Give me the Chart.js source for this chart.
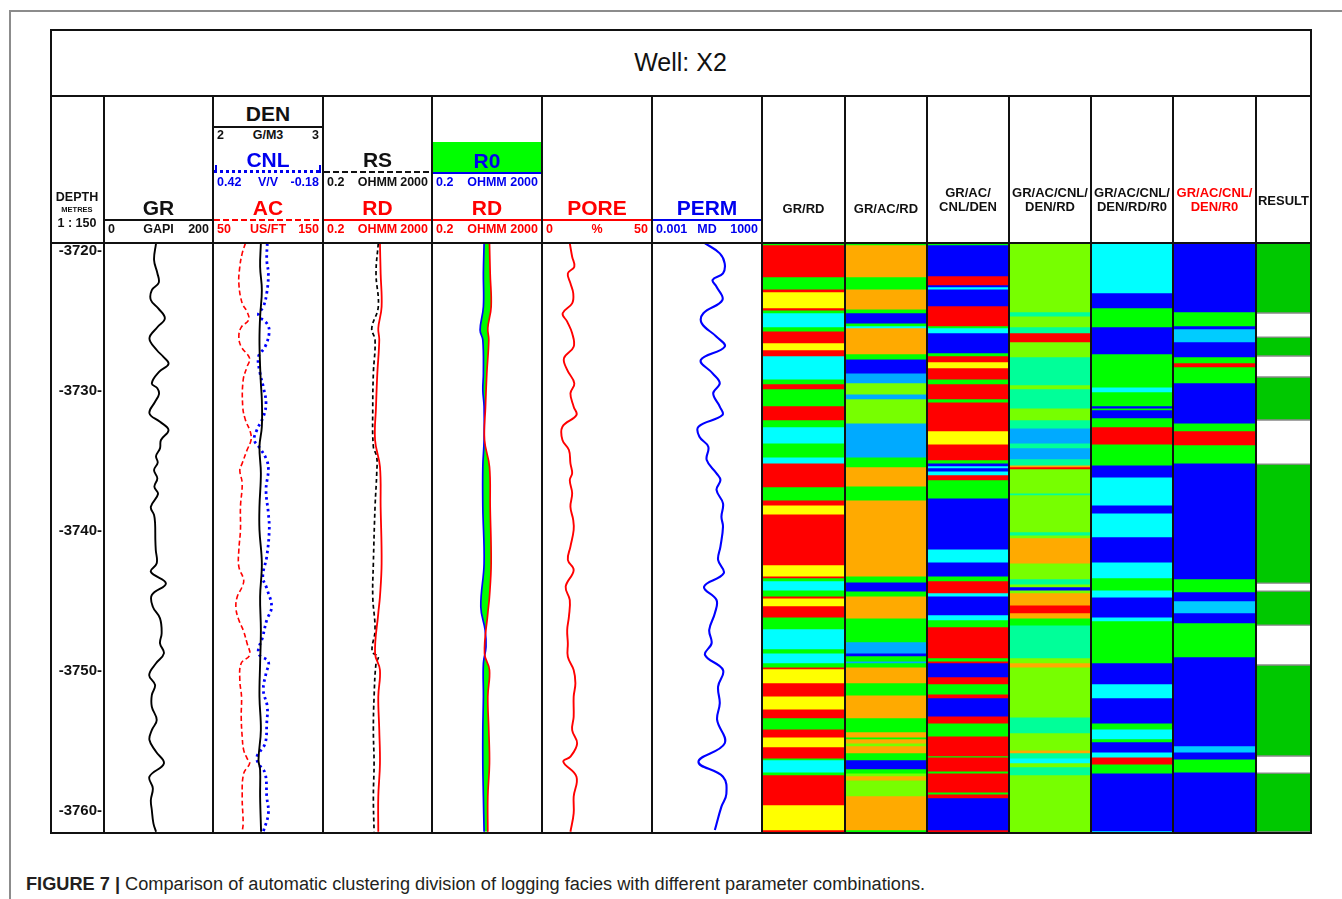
<!DOCTYPE html>
<html>
<head>
<meta charset="utf-8">
<title>Well X2 - logging facies</title>
<script src="https://cdn.jsdelivr.net/npm/chart.js@4.4.1/dist/chart.umd.min.js"></script>
<style>
  body { margin: 0; background: #fff; }
  #sheet { position: relative; width: 1342px; height: 899px; overflow: hidden; background: #fff;
           font-family: Arial, "Liberation Sans", Helvetica, sans-serif; }
  #sheet canvas { position: absolute; z-index: 1; }
  .ln { position: absolute; z-index: 3; }
  .tx { position: absolute; z-index: 4; white-space: nowrap; font-weight: bold; line-height: 1; }
  #caption { position: absolute; left: 26px; top: 884px; transform-origin: left center; white-space: nowrap;
             font-size: 18px; color: #231f20; line-height: 1; }
</style>
</head>
<body>
<div id="sheet"></div>
<script>
// depth window shown in the tracks (m)
const DEPTH_TOP = 3719.47;
const DEPTH_BASE = 3761.54;
const DEPTH_TICKS = [3720, 3730, 3740, 3750, 3760];

// ---- log curves (depth m / value) ----
const GR_DEPTH = [3719.49, 3720.69, 3721.61, 3722.31, 3722.83, 3723.54, 3724.14, 3724.85, 3725.49, 3726.28,
  3727.11, 3727.59, 3728.11, 3728.66, 3729.49, 3729.85, 3730.26, 3730.81, 3731.64, 3732.24, 3732.83, 3733.54,
  3734.14, 3734.69, 3735.16, 3735.69, 3736.28, 3736.88, 3737.40, 3738.31, 3738.90, 3739.49, 3740.69, 3741.40,
  3742.35, 3742.95, 3743.78, 3744.61, 3745.45, 3746.28, 3747.35, 3748.06, 3748.78, 3749.49, 3750.33, 3751.04,
  3751.76, 3752.59, 3753.54, 3754.26, 3754.97, 3755.81, 3756.64, 3757.59, 3758.42, 3759.26, 3759.97, 3760.92, 3761.52];
const GR = [95.4, 91.7, 97.8, 100.4, 87.5, 85.7, 99.6, 111.9, 97.8, 83.1,
  96.7, 108.8, 118.7, 101.5, 87.5, 97.8, 100.9, 93.6, 83.1, 102.8, 118.7, 104.6,
  102.8, 95.4, 98.5, 91.7, 97.8, 92.3, 99.1, 85.7, 91.7, 93.6, 94.1, 94.9,
  96.7, 85.7, 113.8, 87.5, 89.4, 102.8, 105.9, 102.8, 110.1, 95.4, 82.6, 93.6,
  87.5, 87.5, 96.7, 87.5, 83.1, 95.4, 110.1, 83.1, 89.4, 85.7, 87.5, 90.5, 95.4];

const AC_DEPTH = [3719.49, 3720.21, 3721.16, 3722.35, 3723.78, 3724.38, 3724.97, 3725.49, 3726.16, 3726.88,
  3727.71, 3728.31, 3729.26, 3731.16, 3732.11, 3732.95, 3733.54, 3734.26, 3735.21, 3735.69, 3736.64, 3738.31,
  3739.97, 3741.40, 3742.59, 3743.54, 3744.02, 3744.74, 3745.56, 3746.40, 3747.11, 3748.06, 3748.90, 3749.49,
  3750.69, 3751.88, 3753.31, 3754.74, 3755.69, 3756.28, 3756.64, 3757.35, 3759.02, 3760.92, 3761.52];
const AC = [79.1, 76.1, 73.9, 73.0, 76.1, 80.6, 82.1, 75.2, 73.0, 75.2,
  83.0, 80.6, 77.0, 76.6, 79.1, 83.6, 84.3, 80.6, 76.1, 73.9, 76.1, 74.5,
  74.5, 73.0, 73.0, 77.5, 76.1, 71.5, 70.3, 73.0, 77.0, 80.6, 83.0, 75.2,
  73.9, 75.5, 75.2, 76.1, 77.5, 80.6, 83.0, 77.5, 76.1, 77.0, 76.1];

const DEN_DEPTH = [3719.49, 3721.16, 3722.83, 3724.74, 3726.40, 3728.31, 3729.49, 3730.69, 3732.59, 3734.02,
  3735.92, 3738.31, 3739.97, 3742.35, 3744.74, 3747.11, 3749.49, 3751.88, 3754.26, 3756.40, 3757.11, 3759.02, 3761.52];
const DEN = [2.434, 2.427, 2.443, 2.427, 2.421, 2.427, 2.434, 2.443, 2.443, 2.421,
  2.434, 2.421, 2.421, 2.443, 2.427, 2.434, 2.427, 2.421, 2.434, 2.412, 2.427, 2.427, 2.436];

const CNL_DEPTH = [3719.49, 3720.69, 3721.64, 3723.06, 3724.02, 3724.61, 3725.21, 3725.81, 3726.88, 3727.59,
  3728.78, 3729.74, 3730.92, 3731.88, 3732.83, 3733.54, 3734.14, 3734.97, 3735.69, 3737.11, 3738.78, 3739.97,
  3741.88, 3743.31, 3744.14, 3745.45, 3746.40, 3747.59, 3748.78, 3749.38, 3750.21, 3751.40, 3752.59, 3753.78,
  3755.21, 3756.16, 3756.64, 3757.35, 3759.02, 3760.21, 3761.52];
const CNL = [0.124, 0.127, 0.118, 0.127, 0.146, 0.173, 0.127, 0.113, 0.136, 0.173,
  0.164, 0.146, 0.131, 0.146, 0.182, 0.196, 0.164, 0.127, 0.118, 0.131, 0.118, 0.113,
  0.127, 0.149, 0.127, 0.100, 0.127, 0.149, 0.173, 0.118, 0.131, 0.146, 0.124, 0.127,
  0.136, 0.182, 0.173, 0.136, 0.127, 0.118, 0.146];

const RS_DEPTH = [3719.49, 3721.64, 3724.02, 3725.56, 3726.40, 3728.78, 3731.16, 3734.02, 3734.74, 3735.92,
  3738.31, 3742.35, 3744.74, 3747.11, 3748.66, 3749.02, 3749.49, 3751.88, 3754.26, 3756.64, 3759.02, 3761.52];
const RS = [21.4, 17.6, 21.4, 12.2, 16.2, 14.0, 13.3, 14.0, 18.7, 18.7,
  16.2, 14.0, 13.3, 16.2, 12.6, 21.4, 17.6, 14.9, 14.0, 14.9, 14.0, 14.9];

const RD_DEPTH = [3719.49, 3721.64, 3724.02, 3725.56, 3726.40, 3728.78, 3731.16, 3733.54, 3735.45, 3738.31,
  3742.35, 3744.74, 3745.92, 3748.78, 3749.97, 3751.88, 3754.26, 3756.64, 3759.02, 3761.52];
const RD = [24.7, 26.2, 28.5, 21.4, 23.3, 19.7, 17.6, 16.2, 24.7, 26.2,
  28.5, 24.7, 21.4, 16.2, 24.7, 21.4, 23.3, 24.7, 21.4, 21.4];

const R0_DEPTH = [3719.49, 3721.64, 3724.02, 3725.69, 3726.40, 3728.78, 3729.97, 3731.16, 3733.54, 3735.45,
  3738.31, 3742.35, 3745.45, 3747.11, 3748.31, 3749.49, 3751.88, 3754.26, 3756.64, 3759.02, 3761.52];
const R0 = [15.6, 14.7, 14.7, 11.1, 14.0, 14.7, 14.0, 15.6, 15.6, 14.0,
  14.0, 15.6, 11.8, 17.0, 18.4, 14.7, 14.7, 14.0, 14.0, 14.7, 15.6];

const PORE_DEPTH = [3719.49, 3720.45, 3721.16, 3721.64, 3722.35, 3723.06, 3723.78, 3724.49, 3725.09, 3725.92,
  3726.88, 3727.71, 3728.54, 3729.49, 3730.21, 3731.16, 3731.76, 3732.59, 3733.54, 3734.26, 3735.21, 3735.92,
  3736.40, 3737.35, 3738.31, 3739.26, 3739.97, 3741.16, 3742.11, 3742.83, 3744.02, 3744.97, 3746.16, 3747.11,
  3748.06, 3749.02, 3749.97, 3750.92, 3751.88, 3753.31, 3754.26, 3755.21, 3756.16, 3756.52, 3757.59, 3759.02,
  3760.21, 3761.52];
const PORE = [12.4, 13.5, 14.5, 11.5, 12.7, 14.0, 13.5, 9.1, 11.2, 13.5,
  14.2, 9.7, 11.2, 14.5, 12.7, 14.2, 15.5, 9.0, 9.0, 12.0, 12.7, 13.5,
  12.4, 13.5, 12.7, 14.0, 14.2, 12.7, 11.5, 14.2, 10.5, 12.4, 12.0, 11.2,
  11.5, 11.5, 14.2, 15.0, 14.2, 14.2, 13.5, 15.8, 12.7, 9.4, 15.5, 14.2,
  14.2, 12.7];

const PERM_DEPTH = [3719.49, 3720.21, 3720.92, 3721.64, 3722.11, 3722.59, 3723.54, 3724.49, 3725.21, 3726.16,
  3726.88, 3727.83, 3728.78, 3729.49, 3730.21, 3731.16, 3731.76, 3732.59, 3733.31, 3734.02, 3734.97, 3735.92,
  3736.40, 3737.11, 3738.07, 3739.02, 3739.74, 3741.16, 3742.11, 3743.06, 3744.02, 3744.97, 3745.92, 3747.11,
  3748.06, 3748.90, 3749.97, 3751.16, 3752.35, 3753.54, 3755.21, 3756.52, 3757.59, 3758.83, 3759.73, 3761.40];
const PERM = [0.778, 5.12, 9.59, 7.74, 2.05, 3.38, 7.18, 0.629, 0.514, 3.38,
  9.59, 0.453, 2.05, 5.12, 2.21, 5.12, 7.18, 0.335, 0.380, 1.18, 0.964, 3.38,
  5.58, 3.38, 7.74, 6.34, 7.74, 5.58, 4.13, 8.46, 0.686, 3.38, 2.73, 1.33,
  1.80, 0.778, 7.74, 4.13, 5.12, 3.65, 9.59, 0.335, 7.74, 11.9, 6.34, 2.73];

// ---- facies columns: interval edges (m) and class of each interval ----
const GR_RD_EDGES = [3719.47, 3719.61, 3721.90, 3722.76, 3722.97, 3724.11, 3724.26, 3724.47, 3725.47, 3725.76,
  3726.61, 3727.11, 3727.54, 3729.19, 3729.54, 3729.90, 3731.11, 3732.11, 3732.61, 3733.76, 3734.76, 3735.19,
  3736.90, 3737.83, 3738.19, 3738.83, 3742.47, 3743.26, 3743.40, 3743.61, 3744.26, 3744.69, 3744.83, 3745.40,
  3746.19, 3747.04, 3748.47, 3748.76, 3749.47, 3749.76, 3749.90, 3750.90, 3751.83, 3752.76, 3753.40, 3754.19,
  3754.76, 3755.47, 3756.26, 3756.40, 3757.26, 3757.47, 3759.61, 3761.40, 3761.54];
const GR_RD_CLASS = ['G', 'R', 'G', 'R', 'Y', 'R', 'G', 'C', 'G', 'R', 'Y', 'R', 'C', 'G', 'R', 'G', 'R', 'G',
  'C', 'G', 'C', 'R', 'G', 'R', 'Y', 'R', 'Y', 'R', 'G', 'C', 'G', 'R', 'Y', 'R', 'G', 'C', 'G', 'C', 'G', 'R',
  'Y', 'R', 'Y', 'R', 'G', 'R', 'Y', 'R', 'G', 'C', 'G', 'R', 'Y', 'R'];

const GR_AC_RD_EDGES = [3719.47, 3719.61, 3721.90, 3722.76, 3724.19, 3724.47, 3725.19, 3725.40, 3725.54, 3727.40,
  3727.76, 3728.76, 3729.47, 3730.26, 3730.61, 3732.33, 3734.76, 3735.47, 3736.83, 3737.83, 3743.26, 3743.69,
  3744.33, 3744.69, 3746.26, 3747.97, 3748.76, 3748.97, 3749.33, 3749.47, 3749.76, 3750.90, 3751.76, 3753.40,
  3754.40, 3754.76, 3754.90, 3755.19, 3755.40, 3755.90, 3756.40, 3757.04, 3757.33, 3757.54, 3757.83, 3758.97,
  3761.40, 3761.54];
const GR_AC_RD_CLASS = ['G', 'O', 'G', 'O', 'G', 'B', 'G', 'C', 'O', 'G', 'B', 'K', 'L', 'K', 'L', 'K', 'G', 'O',
  'G', 'O', 'G', 'B', 'G', 'O', 'G', 'K', 'B', 'G', 'K', 'G', 'O', 'G', 'O', 'G', 'O', 'G', 'O', 'L', 'O', 'G',
  'B', 'G', 'L', 'O', 'L', 'O', 'G'];

const GR_AC_CNL_DEN_EDGES = [3719.47, 3719.61, 3721.83, 3722.47, 3722.61, 3722.76, 3723.97, 3725.40, 3725.54,
  3725.90, 3727.33, 3727.54, 3727.97, 3728.40, 3729.19, 3729.54, 3730.61, 3730.83, 3732.90, 3733.83, 3734.97,
  3735.19, 3735.40, 3735.54, 3735.76, 3736.04, 3736.40, 3737.69, 3741.33, 3742.26, 3743.26, 3743.61, 3744.47,
  3744.69, 3746.04, 3746.40, 3746.90, 3749.11, 3749.33, 3749.47, 3750.47, 3750.97, 3751.69, 3751.97, 3753.26,
  3753.76, 3754.69, 3756.11, 3756.19, 3757.19, 3757.33, 3758.69, 3758.83, 3759.11, 3761.40, 3761.54];
const GR_AC_CNL_DEN_CLASS = ['G', 'B', 'R', 'B', 'C', 'B', 'R', 'G', 'C', 'B', 'G', 'R', 'Y', 'R', 'G', 'R', 'G',
  'R', 'Y', 'R', 'G', 'B', 'C', 'B', 'C', 'R', 'G', 'B', 'C', 'B', 'G', 'R', 'C', 'B', 'C', 'G', 'R', 'G', 'R',
  'B', 'R', 'G', 'R', 'B', 'R', 'G', 'R', 'G', 'R', 'G', 'R', 'G', 'R', 'B', 'R'];

const GR_AC_CNL_DEN_RD_EDGES = [3719.47, 3724.40, 3724.69, 3725.47, 3725.90, 3726.54, 3727.61, 3729.61, 3729.90,
  3731.26, 3732.11, 3732.69, 3733.76, 3734.11, 3734.90, 3735.33, 3735.47, 3735.61, 3737.33, 3737.47, 3740.11,
  3740.33, 3740.54, 3742.33, 3743.47, 3743.83, 3744.04, 3744.26, 3744.47, 3745.33, 3745.90, 3746.26, 3746.76,
  3749.11, 3749.47, 3749.76, 3753.33, 3754.47, 3755.69, 3755.90, 3756.26, 3756.61, 3756.90, 3757.47, 3761.54];
const GR_AC_CNL_DEN_RD_CLASS = ['L', 'S', 'L', 'S', 'R', 'L', 'S', 'L', 'S', 'L', 'S', 'K', 'S', 'K', 'S', 'O',
  'R', 'L', 'S', 'L', 'S', 'L', 'O', 'L', 'S', 'L', 'B', 'L', 'O', 'R', 'O', 'G', 'S', 'L', 'O', 'L', 'S', 'L',
  'O', 'S', 'C', 'L', 'S', 'L'];

const GR_AC_CNL_DEN_RD_R0_EDGES = [3719.47, 3723.04, 3724.11, 3725.47, 3727.40, 3729.76, 3730.11, 3731.11,
  3731.26, 3731.40, 3731.97, 3732.61, 3733.83, 3735.33, 3736.19, 3738.19, 3738.76, 3740.47, 3742.26, 3743.40,
  3744.26, 3744.76, 3746.19, 3746.47, 3749.47, 3750.97, 3751.97, 3753.76, 3754.19, 3754.90, 3755.11, 3755.83,
  3756.19, 3756.69, 3757.33, 3761.47, 3761.54];
const GR_AC_CNL_DEN_RD_R0_CLASS = ['C', 'B', 'G', 'B', 'G', 'C', 'G', 'B', 'G', 'B', 'G', 'R', 'G', 'B', 'C', 'B',
  'C', 'B', 'C', 'G', 'C', 'B', 'C', 'G', 'B', 'C', 'B', 'G', 'C', 'G', 'B', 'C', 'R', 'G', 'B', 'C'];

const GR_AC_CNL_DEN_R0_EDGES = [3719.47, 3724.40, 3725.40, 3725.61, 3726.54, 3727.61, 3728.04, 3728.33, 3729.47,
  3732.33, 3732.90, 3733.90, 3735.19, 3743.47, 3744.40, 3745.04, 3745.90, 3746.61, 3749.04, 3755.40, 3755.83,
  3756.33, 3757.26, 3761.54];
const GR_AC_CNL_DEN_R0_CLASS = ['B', 'G', 'B', 'D', 'B', 'G', 'R', 'G', 'B', 'G', 'R', 'G', 'B', 'G', 'B', 'D',
  'B', 'G', 'B', 'D', 'B', 'G', 'B'];

// final interpretation: P = pay, N = non-pay
const RESULT_EDGES = [3719.47, 3724.47, 3726.19, 3727.54, 3729.04, 3732.11, 3735.26, 3743.76, 3744.33, 3746.76,
  3749.61, 3756.11, 3757.33, 3761.54];
const RESULT_CLASS = ['P', 'N', 'P', 'N', 'P', 'N', 'P', 'N', 'P', 'N', 'P', 'N', 'P'];

const FACIES_COLORS = {
  R: '#ff0000', G: '#00ff00', Y: '#ffff00', C: '#00ffff', B: '#0000ff', O: '#ffaa00',
  L: '#77ff00', S: '#00ff99', K: '#00aaff', D: '#00ccff', P: '#00c800', N: '#ffffff'
};

// ---------------------------------------------------------------
Chart.defaults.font.family = 'Arial, "Liberation Sans", sans-serif';

const sheet = document.getElementById('sheet');
// column borders of the log sheet
const X = [50, 104, 213, 323, 432, 542, 652, 762, 845, 927, 1009, 1091, 1173, 1256, 1311];
const DATA_TOP = 243;
const DATA_H = 589;
const RED = '#ff0000';
const BLUE = '#0000ee';
const INK = '#111111';

function addCanvas(i) {
  const c = document.createElement('canvas');
  c.width = X[i + 1] - X[i] - 2;
  c.height = DATA_H;
  c.style.left = (X[i] + 1) + 'px';
  c.style.top = DATA_TOP + 'px';
  sheet.appendChild(c);
  return c;
}

const common = {
  responsive: false,
  animation: false,
  events: [],
  layout: { padding: 0, autoPadding: false },
  plugins: { legend: { display: false }, tooltip: { enabled: false } }
};

function depthScale() {
  return { type: 'linear', min: DEPTH_TOP, max: DEPTH_BASE, reverse: true, display: false };
}

function valueScale(type, min, max, reverse) {
  return { axis: 'x', type, min, max, reverse: !!reverse, display: false };
}

function curve(depth, values, axis, color, width, dash) {
  return {
    data: depth.map((d, k) => ({ x: values[k], y: d })),
    xAxisID: axis,
    yAxisID: 'y',
    borderColor: color,
    borderWidth: width,
    borderDash: dash || [],
    pointRadius: 0,
    tension: 0.4,
    fill: false
  };
}

function logTrack(i, scales, datasets) {
  return new Chart(addCanvas(i), {
    type: 'line',
    data: { datasets },
    options: { ...common, indexAxis: 'y', scales: { y: depthScale(), ...scales } }
  });
}

function faciesTrack(i, edges, classes, edged) {
  const datasets = classes.map((k, n) => ({
    data: [[edges[n], edges[n + 1]]],
    backgroundColor: FACIES_COLORS[k],
    borderColor: '#8a8a8a',
    borderWidth: edged ? { top: 1, bottom: 1, left: 0, right: 0 } : 0,
    borderSkipped: false,
    grouped: false,
    barPercentage: 1,
    categoryPercentage: 1
  }));
  return new Chart(addCanvas(i), {
    type: 'bar',
    data: { labels: [''], datasets },
    options: { ...common, scales: { x: { display: false }, y: depthScale() } }
  });
}

// depth labels
new Chart(addCanvas(0), {
  type: 'line',
  data: { datasets: [] },
  options: {
    ...common,
    scales: {
      x: { display: false },
      y: {
        type: 'linear', min: DEPTH_TOP, max: DEPTH_BASE, reverse: true, position: 'left',
        grid: { display: false, drawTicks: false },
        border: { display: false },
        afterBuildTicks: s => { s.ticks = DEPTH_TICKS.map(v => ({ value: v })); },
        afterFit: s => { s.width = s.chart.width - 1; s.paddingTop = 0; s.paddingBottom = 0; },
        ticks: { callback: v => `-${v}-`, color: INK, padding: 0, crossAlign: 'near',
                 font: { size: 15, weight: 'bold' } }
      }
    }
  }
});

// GR track
logTrack(1, { xGR: valueScale('linear', 0, 200) }, [curve(GR_DEPTH, GR, 'xGR', '#000000', 1.9)]);

// DEN / CNL / AC
logTrack(2, {
  xDEN: valueScale('linear', 2, 3),
  xCNL: valueScale('linear', -0.18, 0.42, true),
  xAC: valueScale('linear', 50, 150)
}, [
  curve(DEN_DEPTH, DEN, 'xDEN', '#000000', 1.9),
  curve(CNL_DEPTH, CNL, 'xCNL', '#0000ff', 2.8, [2.5, 3.5]),
  curve(AC_DEPTH, AC, 'xAC', RED, 1.6, [5, 3])
]);

// RS / RD
logTrack(3, { xRES: valueScale('logarithmic', 0.2, 2000) }, [
  curve(RD_DEPTH, RD, 'xRES', RED, 1.8),
  curve(RS_DEPTH, RS, 'xRES', '#000000', 1.7, [4, 3])
]);

// R0 / RD with the gap between them shaded
logTrack(4, { xRES: valueScale('logarithmic', 0.2, 2000) }, [
  curve(RD_DEPTH, RD, 'xRES', RED, 1.7),
  { ...curve(R0_DEPTH, R0, 'xRES', '#0000ff', 1.7), fill: 0, backgroundColor: '#00ff00' }
]);

// porosity
logTrack(5, { xPORE: valueScale('linear', 0, 50) }, [curve(PORE_DEPTH, PORE, 'xPORE', RED, 1.9)]);

// permeability
logTrack(6, { xPERM: valueScale('logarithmic', 0.001, 1000) }, [curve(PERM_DEPTH, PERM, 'xPERM', '#0000ff', 2.1)]);

// facies from each parameter combination
faciesTrack(7, GR_RD_EDGES, GR_RD_CLASS);
faciesTrack(8, GR_AC_RD_EDGES, GR_AC_RD_CLASS);
faciesTrack(9, GR_AC_CNL_DEN_EDGES, GR_AC_CNL_DEN_CLASS);
faciesTrack(10, GR_AC_CNL_DEN_RD_EDGES, GR_AC_CNL_DEN_RD_CLASS);
faciesTrack(11, GR_AC_CNL_DEN_RD_R0_EDGES, GR_AC_CNL_DEN_RD_R0_CLASS);
faciesTrack(12, GR_AC_CNL_DEN_R0_EDGES, GR_AC_CNL_DEN_R0_CLASS);
faciesTrack(13, RESULT_EDGES, RESULT_CLASS, true);

// ---------------- sheet frame and headers ----------------
function box(x, y, w, h, bg) {
  const d = document.createElement('div');
  d.className = 'ln';
  Object.assign(d.style, { left: x + 'px', top: y + 'px', width: w + 'px', height: h + 'px', background: bg });
  sheet.appendChild(d);
  return d;
}

function text(str, x, y, size, color, align, weight) {
  const d = document.createElement('div');
  d.className = 'tx';
  d.innerHTML = str;
  d.style.fontSize = size + 'px';
  d.style.color = color || INK;
  d.style.left = x + 'px';
  d.style.top = y + 'px';
  if (weight) d.style.fontWeight = weight;
  const tx = align === 'left' ? '0' : align === 'right' ? '-100%' : '-50%';
  d.style.transform = `translate(${tx}, -50%)`;
  sheet.appendChild(d);
  return d;
}

function scaleLine(i, y, color, style) {
  const x0 = X[i] + 1, w = X[i + 1] - X[i] - 2;
  if (style === 'dash') {
    box(x0, y - 1, w, 2, `repeating-linear-gradient(90deg, ${color} 0 6px, transparent 6px 9px)`);
  } else if (style === 'dot') {
    box(x0, y - 1.5, w, 3, `repeating-linear-gradient(90deg, ${color} 0 3px, transparent 3px 6px)`);
    box(x0 + 1, y - 6, 2, 8, color);
    box(X[i + 1] - 4, y - 6, 2, 8, color);
  } else {
    box(x0, y - 1, w, 2, color);
  }
}

function scaleRow(i, y, lo, unit, hi, color) {
  text(lo, X[i] + 4, y, 12.5, color, 'left');
  text(unit, (X[i] + X[i + 1]) / 2, y, 12.5, color);
  text(hi, X[i + 1] - 4, y, 12.5, color, 'right');
}

const mid = i => (X[i] + X[i + 1]) / 2;

// outer page rule
box(9, 10, 1333, 1.5, '#8c8c8c');
box(9, 10, 1.5, 889, '#8c8c8c');

// main frame
box(49.5, 28.5, 1262.5, 2, INK);
box(49.5, 832, 1262.5, 2, INK);
box(49.5, 28.5, 2, 805.5, INK);
box(1310, 28.5, 2, 805.5, INK);
box(50, 94.5, 1261, 2, INK);
box(50, 241.5, 1261, 2, INK);
for (let i = 1; i < X.length - 1; i++) box(X[i] - 1, 95, 2, 738, INK);

text('Well: X2', 680.5, 62, 25, INK, 'center', 'normal');

// depth column
text('DEPTH', mid(0), 197, 12.5);
text('METRES', mid(0), 209.5, 7.5);
text('1 : 150', mid(0), 222.7, 12.5);

// GR
text('GR', mid(1), 206.5, 21);
scaleLine(1, 220, INK, 'solid');
scaleRow(1, 228.5, '0', 'GAPI', '200', INK);

// DEN / CNL / AC
text('DEN', mid(2), 113, 21);
scaleLine(2, 126.5, INK, 'solid');
scaleRow(2, 134.5, '2', 'G/M3', '3', INK);
text('CNL', mid(2), 159, 21, BLUE);
scaleLine(2, 171, BLUE, 'dot');
scaleRow(2, 182, '0.42', 'V/V', '-0.18', BLUE);
text('AC', mid(2), 207, 21, RED);
scaleLine(2, 220, RED, 'dash');
scaleRow(2, 228.5, '50', 'US/FT', '150', RED);

// RS / RD
text('RS', mid(3), 159, 21);
scaleLine(3, 171.5, INK, 'dash');
scaleRow(3, 182, '0.2', 'OHMM', '2000', INK);
text('RD', mid(3), 207, 21, RED);
scaleLine(3, 220, RED, 'solid');
scaleRow(3, 228.5, '0.2', 'OHMM', '2000', RED);

// R0 / RD
box(X[4] + 1, 142, X[5] - X[4] - 2, 31, '#00ff00');
text('R0', mid(4), 159.5, 21, BLUE);
scaleLine(4, 173, BLUE, 'solid');
scaleRow(4, 182, '0.2', 'OHMM', '2000', BLUE);
text('RD', mid(4), 206.5, 21, RED);
scaleLine(4, 220, RED, 'solid');
scaleRow(4, 228.5, '0.2', 'OHMM', '2000', RED);

// PORE
text('PORE', mid(5), 206.5, 21, RED);
scaleLine(5, 220, RED, 'solid');
scaleRow(5, 228.5, '0', '%', '50', RED);

// PERM
text('PERM', mid(6), 206.5, 21, BLUE);
scaleLine(6, 220, BLUE, 'solid');
scaleRow(6, 228.5, '0.001', 'MD', '1000', BLUE);

// facies column headings
const faciesHead = [
  ['GR/RD', INK], ['GR/AC/RD', INK], ['GR/AC/<br>CNL/DEN', INK], ['GR/AC/CNL/<br>DEN/RD', INK],
  ['GR/AC/CNL/<br>DEN/RD/R0', INK], ['GR/AC/CNL/<br>DEN/R0', RED], ['RESULT', INK]
];
faciesHead.forEach(([label, color], n) => {
  const i = n + 7;
  const twoLines = label.includes('<br>');
  const y = label === 'RESULT' ? 201 : twoLines ? 199.5 : 208.5;
  const t = text(label, mid(i), y, 13, color);
  t.style.textAlign = 'center';
  t.style.lineHeight = '14.5px';
});

// caption
const cap = document.createElement('div');
cap.id = 'caption';
cap.innerHTML = '<b>FIGURE 7 |</b> Comparison of automatic clustering division of logging facies with different parameter combinations.';
sheet.appendChild(cap);
cap.style.transform = `translateY(-50%) scaleX(${899 / cap.offsetWidth})`;
</script>
</body>
</html>
